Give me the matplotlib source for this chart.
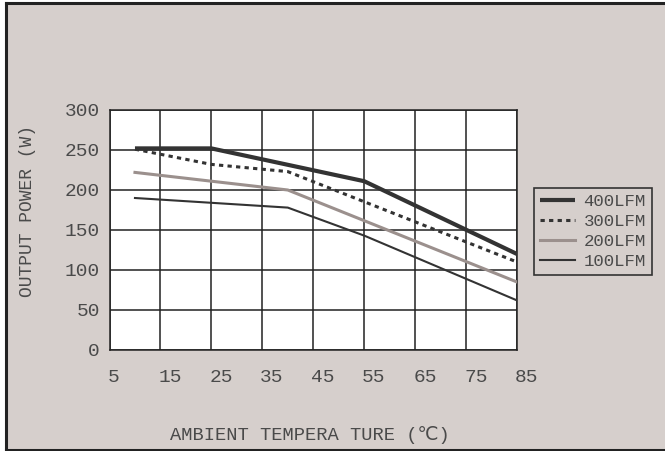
import matplotlib
matplotlib.use("Agg")
import matplotlib.pyplot as plt
import matplotlib.transforms as mtransforms
from matplotlib.patches import Rectangle

# derating curves, output power vs ambient temperature
temp_400 = [10, 25, 55, 85]
power_400 = [252, 252, 211, 120]
temp_300 = [10, 25, 40, 85]
power_300 = [251, 232, 223, 110]
temp_200 = [10, 40, 85]
power_200 = [222, 200, 85]
temp_100 = [10, 40, 55, 85]
power_100 = [190, 178, 143, 62]

x_ticks = [5, 15, 25, 35, 45, 55, 65, 75, 85]
y_ticks = [0, 50, 100, 150, 200, 250, 300]

BG = "#d6cfcc"
INK = "#4a4a4a"
MONO = ["Liberation Mono", "DejaVu Sans Mono", "DejaVu Sans"]

plt.rcParams["font.family"] = MONO

fig = plt.figure(figsize=(6.65, 4.51), dpi=100, facecolor="white")

# panel background with dark frame on left / top / bottom
fig.patches.append(Rectangle((6 / 665, 1 / 451), 1.0, 447 / 451, transform=fig.transFigure,
                             facecolor=BG, edgecolor="none", zorder=-5))
for xs, ys in [((6 / 665, 6 / 665), (1 / 451, 448 / 451)),
               ((6 / 665, 1.0), (448 / 451, 448 / 451)),
               ((6 / 665, 1.0), (1 / 451, 1 / 451))]:
    fig.add_artist(plt.Line2D(xs, ys, transform=fig.transFigure, color="#222222", lw=2.2, zorder=-4))

ax = fig.add_axes([109.5 / 665, 101 / 451, 407.5 / 665, 240 / 451])
ax.set_facecolor("white")
ax.set_zorder(1)

ax.plot(temp_400, power_400, color="#333333", lw=3.0, solid_capstyle="butt", label="400LFM", zorder=5)
ax.plot(temp_300, power_300, color="#333333", lw=2.2, linestyle=(0, (1.4, 1.4)), label="300LFM", zorder=4)
ax.plot(temp_200, power_200, color="#9b908d", lw=2.2, label="200LFM", zorder=3)
ax.plot(temp_100, power_100, color="#333333", lw=1.5, label="100LFM", zorder=3)

ax.set_xlim(5, 85)
ax.set_ylim(0, 300)
ax.set_xticks(x_ticks)
ax.set_yticks(y_ticks)
ax.set_xticklabels([str(t) for t in x_ticks])
ax.set_yticklabels([str(t) for t in y_ticks])
ax.grid(True, color="#222222", lw=1.1)
for s in ax.spines.values():
    s.set_color("#222222")
    s.set_linewidth(1.1)
ax.tick_params(length=0, labelsize=14, labelcolor=INK)
ax.tick_params(axis="x", pad=14)
ax.tick_params(axis="y", pad=7)

# x labels sit to the right of their gridline
shift = mtransforms.ScaledTranslation(-2 / 100, 0, fig.dpi_scale_trans)
for lbl in ax.get_xticklabels():
    lbl.set_horizontalalignment("left")
    lbl.set_transform(lbl.get_transform() + shift)

fig.text(28 / 665, 1 - 211 / 451, "OUTPUT POWER (W)", rotation=90, ha="center", va="center",
         fontsize=13, color=INK)
fig.text(310 / 665, 1 - 435 / 451, "AMBIENT TEMPERA TURE (\u2103)", ha="center", va="center",
         fontsize=13.5, color=INK)

leg = ax.legend(loc="upper left", bbox_to_anchor=(534 / 665, 1 - 188 / 451),
                bbox_transform=fig.transFigure, borderaxespad=0, fontsize=12.5,
                handlelength=2.0, handletextpad=0.5, labelspacing=0.28,
                borderpad=0.35, fancybox=False, framealpha=1)
leg.get_frame().set_facecolor(BG)
leg.get_frame().set_edgecolor("#333333")
leg.get_frame().set_linewidth(1.2)
for t in leg.get_texts():
    t.set_color(INK)

fig.savefig("out.png", dpi=100, facecolor=fig.get_facecolor())
